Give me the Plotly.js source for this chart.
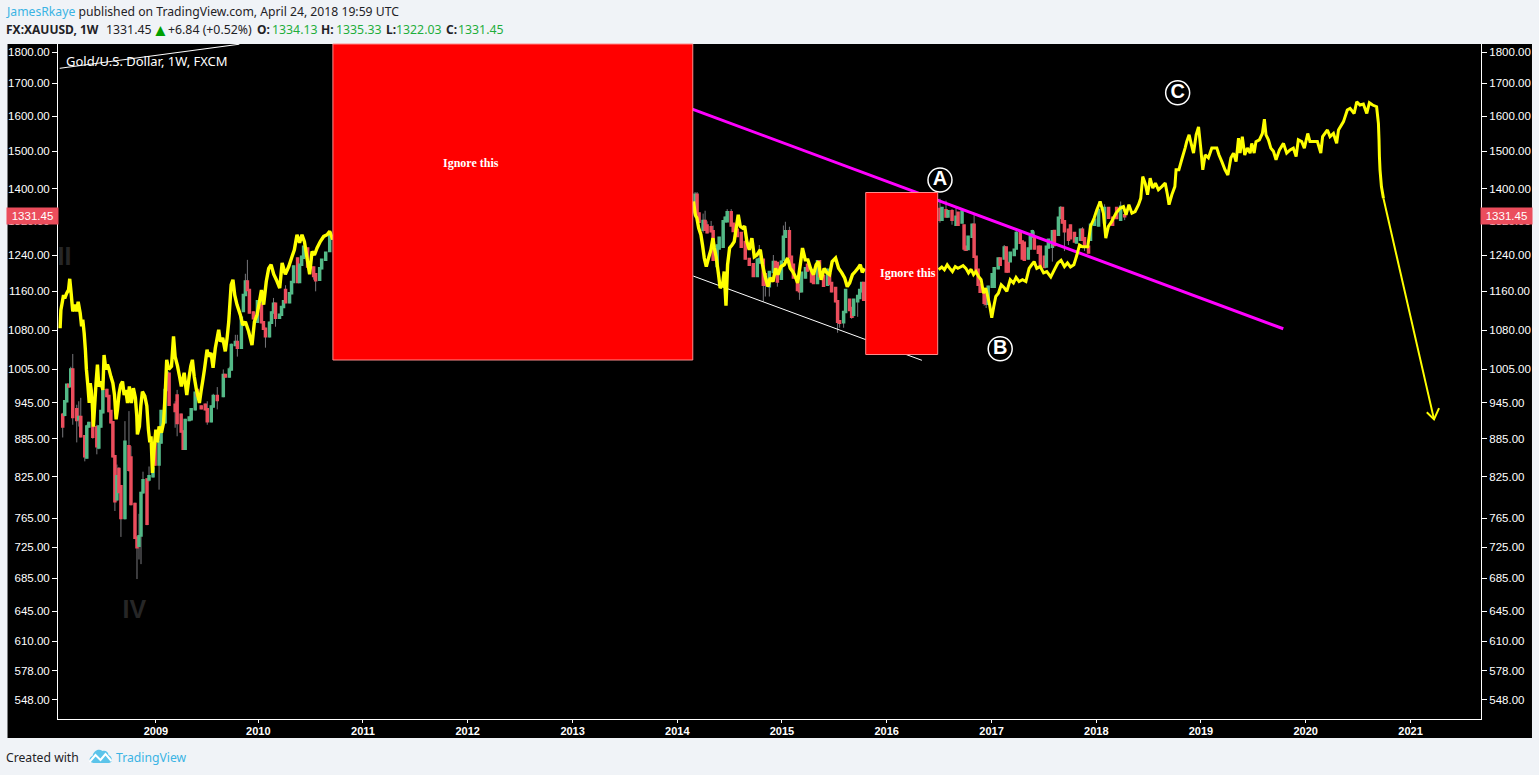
<!DOCTYPE html>
<html>
<head>
<meta charset="utf-8">
<script src="https://cdn.plot.ly/plotly-3.0.1.min.js"></script>
<style>html,body{margin:0;padding:0;background:#f0f3f7;overflow:hidden}#chart{width:1539px;height:775px}</style>
</head>
<body>
<div id="chart"></div>
<script>
// Weeks counted from 2008-01-04
const barWeek = [6,7,8,9,10,11,13,14,15,17,18,19,21,23,24,25,26,28,29,30,31,32,33,34,35,37,39,40,42,43,44,45,46,48,49,51,52,54,55,57,58,59,62,63,65,66,67,69,70,72,
73,75,77,78,80,81,83,86,87,89,90,92,93,95,96,97,98,99,101,103,105,106,107,109,110,111,112,114,115,116,117,119,120,121,123,124,125,126,128,131,132,134,135,137,139,
321,322,323,325,326,327,329,330,332,333,335,336,337,339,340,342,344,346,348,350,352,353,355,356,357,358,360,361,362,364,365,366,368,369,370,372,373,374,376,377,379,380,382,383,385,387,388,389,391,392,393,395,396,398,399,400,402,403,404,405,
443,444,446,447,449,451,452,454,455,456,457,459,460,461,462,463,465,466,467,469,470,472,473,475,476,477,478,480,481,483,484,485,487,488,489,490,492,493,495,496,497,499,500,502,503,504,505,507,508,510,511,513,514,515,517,518,520,522,525,527,529,531,533,535];
const barOpen = [925,925,948,977,975,1005,934,917,921,889,855,905,929,904,871,905,929,968,957,931,912,857,792,837,811,765,873,855,785,738,727,741,802,821,821,826,876,844,879,912,968,997,942,958,925,897,869,916,917,934,
968,939,942,934,914,939,957,957,995,992,1005,1051,1057,1046,1119,1152,1181,1163,1116,1097,1132,1096,1083,1068,1095,1116,1134,1105,1111,1127,1163,1137,1156,1180,1232,1180,1218,1234,1255,1212,1197,1185,1210,1229,1249,
1341,1385,1338,1299,1320,1309,1305,1295,1215,1255,1259,1319,1319,1341,1313,1299,1291,1270,1231,1219,1193,1223,1229,1197,1185,1171,1202,1224,1222,1187,1229,1282,1295,1236,1218,1189,1174,1160,1190,1218,1205,1197,1178,1226,1193,1174,1197,1178,1167,1139,1098,1096,1117,1142,1125,1111,1139,1146,1160,1178,
1349,1323,1346,1331,1344,1311,1340,1316,1309,1259,1254,1282,1311,1236,1207,1174,1159,1151,1134,1170,1170,1210,1232,1232,1257,1222,1226,1240,1255,1291,1271,1268,1232,1255,1282,1282,1259,1259,1236,1214,1257,1259,1296,1287,1328,1352,1319,1299,1309,1291,1269,1275,1299,1279,1259,1275,1311,1309,1316,1352,1328,1352,1323,1334.13];
const barHigh = [928,950,978,978,1010,1034,942,948,954,891,908,913,932,908,907,933,992,970,959,933,914,859,844,840,813,914,931,873,787,740,771,803,833,823,841,840,878,881,933,970,1002,999,948,968,927,899,918,922,936,965,
970,941,944,948,941,961,973,1005,997,1010,1054,1071,1071,1108,1154,1198,1229,1165,1118,1141,1163,1098,1085,1097,1118,1146,1136,1113,1129,1141,1173,1158,1182,1216,1234,1220,1238,1261,1257,1214,1199,1212,1231,1247,1289,
1392,1392,1340,1338,1345,1319,1320,1309,1264,1282,1321,1331,1349,1349,1315,1301,1293,1272,1233,1221,1231,1263,1231,1199,1187,1204,1240,1226,1224,1227,1309,1318,1306,1238,1220,1191,1176,1202,1212,1220,1207,1199,1228,1228,1195,1209,1199,1180,1169,1141,1100,1119,1165,1144,1127,1144,1152,1165,1180,1180,
1375,1354,1370,1346,1349,1352,1342,1345,1311,1261,1284,1313,1336,1238,1209,1176,1161,1153,1172,1199,1212,1234,1234,1263,1259,1224,1247,1254,1299,1293,1273,1270,1257,1284,1299,1295,1261,1261,1238,1261,1277,1297,1298,1330,1356,1354,1321,1301,1311,1293,1281,1301,1305,1281,1261,1313,1325,1368,1361,1354,1330,1354,1368,1335.33];
const barLow = [887,922,946,973,973,908,879,905,887,849,853,903,885,860,868,903,927,955,929,910,855,775,789,800,739,763,833,783,736,684,709,703,800,755,818,824,842,806,877,910,966,940,903,889,895,867,867,914,915,932,
956,934,932,908,912,937,934,955,990,990,1003,1049,1029,1044,1117,1150,1161,1114,1102,1095,1094,1081,1046,1066,1093,1114,1087,1103,1109,1125,1135,1135,1154,1178,1178,1178,1216,1232,1212,1185,1160,1183,1208,1227,1247,
1329,1336,1316,1292,1297,1290,1293,1227,1213,1253,1257,1317,1317,1307,1294,1282,1257,1230,1216,1191,1191,1221,1138,1149,1172,1149,1200,1195,1170,1185,1227,1280,1234,1212,1188,1161,1142,1158,1188,1203,1179,1176,1176,1191,1170,1172,1174,1158,1137,1075,1085,1085,1115,1119,1103,1105,1107,1144,1158,1140,
1316,1321,1329,1329,1311,1309,1309,1314,1249,1250,1252,1280,1234,1205,1172,1157,1130,1125,1132,1168,1168,1208,1216,1230,1201,1201,1224,1238,1253,1266,1230,1227,1230,1253,1280,1253,1243,1212,1211,1212,1255,1225,1261,1285,1326,1314,1249,1263,1277,1269,1267,1273,1273,1249,1244,1273,1309,1307,1314,1326,1309,1325,1321,1322.03];
const barClose = [905,948,977,974,1005,921,916,921,889,857,905,911,888,873,905,931,967,957,931,912,857,789,826,803,765,880,836,785,738,725,740,801,820,757,826,838,844,879,931,968,999,942,931,911,897,869,916,920,934,963,
958,936,934,914,939,957,950,995,992,1005,1051,1057,1046,1105,1152,1181,1163,1116,1104,1139,1096,1083,1068,1095,1116,1134,1105,1111,1127,1139,1137,1156,1180,1214,1180,1218,1236,1259,1214,1193,1184,1210,1229,1245,1287,
1385,1338,1318,1320,1299,1293,1295,1229,1262,1280,1319,1328,1341,1309,1296,1284,1259,1232,1218,1193,1229,1231,1174,1174,1174,1202,1224,1197,1181,1225,1282,1295,1236,1214,1190,1163,1160,1200,1210,1205,1181,1178,1226,1193,1172,1207,1176,1160,1139,1097,1095,1117,1163,1121,1107,1142,1150,1163,1178,1142,
1323,1352,1331,1344,1323,1330,1311,1343,1255,1252,1282,1311,1236,1207,1174,1159,1136,1134,1170,1197,1210,1232,1218,1257,1203,1203,1245,1252,1291,1268,1232,1229,1255,1282,1295,1255,1245,1214,1213,1259,1275,1295,1263,1328,1352,1316,1295,1275,1279,1271,1279,1299,1275,1259,1246,1311,1323,1347,1352,1328,1311,1327,1355,1331.45];

const lineWeek = [4.7,5.1,5.7,6.4,7,8,8.9,9.5,10.2,11,12,12.9,13.7,14.7,15.4,16,16.7,17.3,17.8,18.5,19.2,19.7,20.2,20.7,21.3,22,22.6,23.3,24,25,26,26.6,27.5,28.3,29.1,30,31,31.8,32.6,33.3,34.1,34.9,35.8,36.6,37.4,38.3,39.2,40.2,41.2,42.2,42.9,43.2,44.2,44.9,45.7,46.9,47.9,48.7,49.4,50,50.7,51.5,52.4,53.2,54,55.2,56.2,57,57.8,58.8,60.2,61.2,62,63.2,64.2,65.1,66.5,67.8,69,69.8,70.6,71.5,72.6,
72.9,74.1,74.9,75.7,76.6,77.9,78.7,79.9,80.9,82,83.7,84.5,85.7,87,87.9,88.7,89.9,90.8,91.7,92.8,94.5,95.7,97,98.6,100.3,101.5,102.8,104,105,106.1,107.4,108.6,109.8,111.1,112.4,114.1,115.3,116.9,118.6,120.2,121.4,122.7,124,125.2,126.4,127.7,129,130.2,131.4,132.7,134.3,136,137.7,139,140.3,
320.3,321.1,321.9,322.8,323.9,324.7,325.6,326.6,327.7,328.9,329.9,330.6,331.5,332.7,333.5,334.7,335.5,336.4,337.2,338.2,339.4,340.5,341.5,342.5,343.5,344.7,345.7,346.8,348,349.3,350.5,351.8,353.5,354.6,355.9,357.3,358.4,359.8,361.1,362.3,363.8,365.4,367.1,368.4,369.6,370.9,372.1,373.4,374.5,375.9,377.2,378.5,380,381.3,382.5,383.8,385.3,386.7,388,389.3,391,392.5,394.1,395.5,396.8,398,399.4,400.8,402.1,403.3,404.3,405.4,
442.3,443.9,445.2,446.6,447.9,449.2,450.6,451.9,453.2,454.5,455.9,457.2,458.5,459.7,460.9,462.2,463.5,464.7,465.8,466.8,467.7,468.8,469.8,470.8,472.1,473.5,475.1,476.3,478,479.6,480.9,482.4,484.1,485.8,487.4,488.7,489.9,491.2,492.9,494.6,496.2,498.2,500,501.7,503.3,505,506.5,508,509.7,511.2,512.5,514,515.3,516.6,518,519.8,521.1,522.8,524.4,525.6,526.9,528.6,
529.4,530.7,532.7,534.4,535.7,537.1,538.6,540.2,541.9,543,544,545.2,546.4,547.7,549,550.3,551.8,553.5,555.2,556.3,557.1,558.5,560,560.6,562,563.4,565.1,565.9,567.1,568.1,569.3,570.6,571.8,572.9,573.9,575.1,576.7,578.4,580.9,582,583.4,585,586.4,587.9,589.2,590.5,591.7,
592.5,593.6,594.8,596.1,597.5,598.3,599.5,600.4,602.1,603.6,604.6,605.4,606.6,607.8,609.1,610.4,612.1,614.1,615.7,617.4,619,620.4,621.5,623.2,624.5,626.2,627.3,629,631,632.7,633.6,636,637.3,639,640.6,641.5,644,645.9,647.3,649.3,650.6,652.2,653.9,655.6,656.9,658.5,660.5,661.4,661.7,661.9,662.2,662.9,663.9];
const linePrice = [1084,1121,1135,1152,1145,1156,1163,1187,1156,1118,1132,1118,1138,1115,1088,1101,1074,1042,1005,977,945,980,968,945,905,945,980,1014,974,983,968,1032,1005,1014,1005,992,980,959,917,934,962,977,983,959,968,945,974,945,971,954,923,892,905,940,965,957,940,900,879,889,831,868,900,879,905,895,911,957,1023,1005,1011,1068,1029,1011,992,974,999,959,992,1011,1023,992,968,
965,945,965,983,1005,1042,1029,1036,1008,1045,1081,1058,1065,1039,1065,1097,1174,1185,1152,1132,1111,1090,1097,1078,1051,1097,1111,1138,1163,1132,1181,1210,1218,1197,1185,1167,1222,1197,1214,1236,1252,1287,1268,1287,1271,1233,1197,1248,1240,1256,1271,1283,1287,1295,1279,
1364,1335,1327,1303,1287,1263,1233,1214,1233,1252,1279,1256,1236,1196,1167,1174,1203,1130,1218,1256,1263,1271,1303,1335,1307,1303,1307,1271,1252,1279,1236,1240,1252,1218,1192,1170,1189,1181,1210,1196,1214,1218,1233,1210,1203,1192,1178,1218,1256,1229,1229,1210,1196,1218,1225,1185,1210,1200,1196,1225,1233,1210,1200,1189,1170,1178,1196,1203,1210,1218,1201,1210,
1207,1213,1207,1218,1210,1203,1214,1210,1213,1216,1210,1200,1208,1196,1203,1192,1185,1156,1167,1149,1132,1105,1128,1149,1156,1174,1167,1160,1185,1178,1190,1181,1185,1181,1210,1218,1225,1210,1214,1200,1203,1191,1207,1222,1228,1214,1222,1213,1218,1240,1263,1259,1259,1259,1307,1327,1347,1368,1339,1279,1307,1319,
1327,1339,1351,1355,1335,1360,1339,1343,1360,1376,1432,1415,1385,1428,1402,1415,1398,1406,1415,1385,1360,1385,1406,1450,1450,1477,1509,1527,1546,1522,1495,1546,1569,1509,1450,1490,1482,1509,1509,1490,1472,1450,1436,1482,1495,1472,1537,
1495,1541,1490,1509,1495,1522,1495,1527,1532,1550,1591,1546,1532,1509,1500,1477,1504,1522,1495,1504,1509,1486,1532,1527,1509,1550,1527,1527,1527,1495,1541,1560,1541,1550,1522,1560,1584,1618,1623,1608,1643,1633,1636,1608,1640,1633,1628,1579,1532,1486,1450,1406,1376];

const tailWeek = [663.9,689.1];
const tailPrice = [1376,917];
const arrowWeek = [685.5,689.1,691.6];
const arrowPrice = [929,917,936];
const resistWeek = [319.6,614];
const resistPrice = [1621,1083];
const supportWeek = [320.1,434];
const supportPrice = [1193,1022];
const upperWeek = [4.5,94];
const upperPrice = [1747,1826];

const waveLabels = ['A','B','C'];
const waveWeek = [443,473,561.4];
const wavePrice = [1423,1044,1670];
const faintLabels = ['II','IV'];
const faintWeek = [6.9,41.7];
const faintPrice = [1232,644];

const priceTicks = [1800,1700,1600,1500,1400,1320,1240,1160,1080,1005,945,885,825,765,725,685,645,610,578,548];
const yearTicks = ['2009-01-05','2009-12-28','2010-12-28','2011-12-28','2012-12-28','2013-12-28','2014-12-28','2015-12-28','2016-12-28','2017-12-28','2018-12-28','2019-12-28','2020-12-28'];
const yearLabels = ['2009','2010','2011','2012','2013','2014','2015','2016','2017','2018','2019','2020','2021'];

const W = 1539, H = 775, L = 57.5, R = 1481, T = 44, B = 719;
const fx = x => (x - L) / (R - L);
const fy = y => (B - y) / (B - T);
const wk = w => new Date(Date.UTC(2008, 0, 4) + w * 7 * 864e5).toISOString().slice(0, 19).replace('T', ' ');
const wks = a => a.map(wk);

const GREEN = '#53b987', RED = '#eb4d5c', YELLOW = '#ffff00';
const SANS = '"Liberation Sans", Arial, sans-serif';
const UI = '"Noto Sans", sans-serif';
const splitIdx = lineWeek.findIndex(w => w > 410);

const barDates = wks(barWeek);
const common = {type: 'candlestick', x: barDates, open: barOpen, close: barClose, whiskerwidth: 0, hoverinfo: 'skip', showlegend: false};
const traces = [
  Object.assign({}, common, {
    high: barHigh, low: barLow,
    increasing: {line: {color: '#76767a', width: 1}, fillcolor: '#76767a'},
    decreasing: {line: {color: '#76767a', width: 1}, fillcolor: '#76767a'}
  }),
  Object.assign({}, common, {
    high: barOpen.map((o, i) => Math.max(o, barClose[i])),
    low: barOpen.map((o, i) => Math.min(o, barClose[i])),
    increasing: {line: {color: GREEN, width: 2.5}, fillcolor: GREEN},
    decreasing: {line: {color: RED, width: 2.5}, fillcolor: RED}
  }),
  {type: 'scatter', mode: 'lines', x: wks(upperWeek), y: upperPrice, line: {color: '#ffffff', width: 1}, hoverinfo: 'skip', showlegend: false},
  {type: 'scatter', mode: 'lines', x: wks(supportWeek), y: supportPrice, line: {color: '#ffffff', width: 1}, hoverinfo: 'skip', showlegend: false},
  {type: 'scatter', mode: 'lines', x: wks(resistWeek), y: resistPrice, line: {color: '#ff00ff', width: 3}, hoverinfo: 'skip', showlegend: false},
  {type: 'scatter', mode: 'lines', x: wks(lineWeek.slice(0, splitIdx)), y: linePrice.slice(0, splitIdx), line: {color: YELLOW, width: 3.4, simplify: false}, hoverinfo: 'skip', showlegend: false},
  {type: 'scatter', mode: 'lines', x: wks(lineWeek.slice(splitIdx)), y: linePrice.slice(splitIdx), line: {color: YELLOW, width: 3, simplify: false}, hoverinfo: 'skip', showlegend: false},
  {type: 'scatter', mode: 'lines', x: wks(tailWeek), y: tailPrice, line: {color: YELLOW, width: 2}, hoverinfo: 'skip', showlegend: false},
  {type: 'scatter', mode: 'lines', x: wks(arrowWeek), y: arrowPrice, line: {color: YELLOW, width: 2}, hoverinfo: 'skip', showlegend: false},
  {type: 'scatter', mode: 'markers+text', x: wks(waveWeek), y: wavePrice, text: waveLabels, textposition: 'middle center',
    textfont: {family: SANS, size: 20, color: '#ffffff', weight: 700},
    marker: {symbol: 'circle', size: 24, color: '#000000', line: {color: '#ffffff', width: 1.5}}, hoverinfo: 'skip', showlegend: false, cliponaxis: false},
  {type: 'scatter', mode: 'text', x: wks(faintWeek), y: faintPrice, text: faintLabels, textposition: 'middle center',
    textfont: {family: SANS, size: 25, color: '#262626', weight: 700}, hoverinfo: 'skip', showlegend: false, cliponaxis: false},
  {type: 'scatter', mode: 'markers', x: [barDates[barDates.length - 1]], y: [barClose[barClose.length - 1]], yaxis: 'y2', marker: {opacity: 0, size: 1}, hoverinfo: 'skip', showlegend: false}
];

const yCommon = {
  type: 'log', range: [Math.log10(529), Math.log10(1826.7)], autorange: false,
  tickmode: 'array', tickvals: priceTicks, ticktext: priceTicks.map(v => v.toFixed(2)),
  showgrid: false, zeroline: false, showline: true, linecolor: '#ffffff', linewidth: 1,
  ticks: 'outside', ticklen: 5, tickwidth: 1, tickcolor: '#ffffff',
  tickfont: {family: SANS, size: 11.5, color: '#ffffff'}
};

const INK = '#1f2226', VAL = '#1fae3c';
const note = (text, x, y, size, color, extra) => Object.assign({
  text, xref: 'paper', yref: 'paper', x: fx(x - 3), y: fy(y), xanchor: 'left', yanchor: 'middle', showarrow: false,
  font: {family: UI, size, color: color || INK}, align: 'left'
}, extra || {});

const tag = (x) => ({
  text: '1331.45', xref: 'paper', yref: 'paper', x: fx(x), y: fy(216), xanchor: 'center', yanchor: 'middle', showarrow: false,
  width: 51, height: 16, bgcolor: RED, borderpad: 0, font: {family: SANS, size: 11.5, color: '#ffffff'}
});

const ignore = (x, y) => ({
  text: '<b>Ignore this</b>', xref: 'paper', yref: 'paper', x: fx(x), y: fy(y), xanchor: 'center', yanchor: 'middle', showarrow: false,
  font: {family: '"Liberation Serif", serif', size: 12, color: '#ffffff'}
});

const layout = {
  width: W, height: H, autosize: false, showlegend: false,
  margin: {l: L, r: W - R, t: T, b: H - B, pad: 0},
  paper_bgcolor: '#f0f3f7', plot_bgcolor: '#000000',
  xaxis: {
    type: 'date', range: ['2008-01-29 14:00', '2021-08-30 12:00'], autorange: false, rangeslider: {visible: false},
    tickmode: 'array', tickvals: yearTicks, ticktext: yearLabels, tickangle: 0,
    showgrid: false, zeroline: false, showline: true, linecolor: '#ffffff', linewidth: 1,
    ticks: 'outside', ticklen: 3, tickwidth: 1, tickcolor: '#ffffff', ticklabelstandoff: -1,
    tickfont: {family: SANS, size: 11, color: '#ffffff', weight: 700}
  },
  yaxis: Object.assign({}, yCommon, {side: 'left'}),
  yaxis2: Object.assign({}, yCommon, {side: 'right', overlaying: 'y', anchor: 'x'}),
  shapes: [
    {type: 'rect', layer: 'below', xref: 'paper', yref: 'paper', x0: fx(7), x1: fx(1532), y0: fy(738), y1: fy(44), fillcolor: '#000000', line: {width: 0}},
    {type: 'rect', layer: 'above', xref: 'paper', yref: 'paper', x0: fx(332.5), x1: fx(692.5), y0: fy(360), y1: fy(44), fillcolor: '#ff0000', line: {color: '#ff8a8a', width: 1}},
    {type: 'rect', layer: 'above', xref: 'paper', yref: 'paper', x0: fx(865.5), x1: fx(937.5), y0: fy(354.5), y1: fy(192.5), fillcolor: '#ff0000', line: {color: '#ff8a8a', width: 1}}
  ],
  annotations: [
    note('<span style="color:#3bb3e4">JamesRkaye</span> published on TradingView.com, April 24, 2018 19:59 UTC', 6, 11.5, 12.2),
    note('<b>FX:XAUUSD, 1W</b>', 6, 29.5, 12),
    note('1331.45', 106.7, 29.5, 12.3),
    note('▲', 153, 29, 17, '#00a000'),
    note('+6.84 (+0.52%)', 169, 29.5, 12.3),
    note('<b>O:</b>', 258, 29.5, 12),
    note('1334.13', 272.5, 29.5, 12.3, VAL),
    note('<b>H:</b>', 322, 29.5, 12),
    note('1335.33', 336.5, 29.5, 12.3, VAL),
    note('<b>L:</b>', 386.5, 29.5, 12),
    note('1322.03', 397, 29.5, 12.3, VAL),
    note('<b>C:</b>', 447, 29.5, 12),
    note('1331.45', 459, 29.5, 12.3, VAL),
    note('Gold/U.S. Dollar, 1W, FXCM', 67, 60.5, 13, '#ffffff'),
    note('Created with', 6, 757, 12.2),
    note('TradingView', 117, 757, 12.2, '#3bb3e4'),
    ignore(470.5, 163.5),
    ignore(908, 273),
    tag(32),
    tag(1506.5)
  ],
  images: [{
    source: 'data:image/svg+xml,' + encodeURIComponent('<svg xmlns="http://www.w3.org/2000/svg" width="24" height="15" viewBox="0 0 24 15"><path d="M5 15C0 15 0 9 4 8C5 3 10 0 14 3C17 2 20 4 20 7C24 8 25 15 20 15Z" fill="#5cc4ea"/><path d="M1 14L7 7L12 12L17 6L23 13" fill="none" stroke="#ffffff" stroke-width="2"/></svg>'),
    xref: 'paper', yref: 'paper', x: fx(88), y: fy(748), sizex: 24 / (R - L), sizey: 15 / (B - T), sizing: 'stretch', xanchor: 'left', yanchor: 'top', layer: 'above'
  }]
};

Plotly.newPlot('chart', traces, layout, {displayModeBar: false, responsive: false});
</script>
</body>
</html>
